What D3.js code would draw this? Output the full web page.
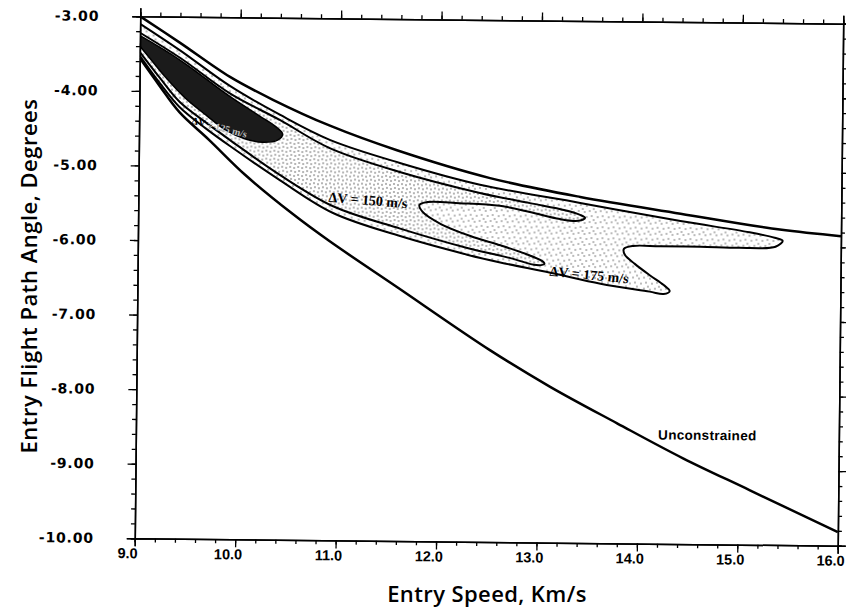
<!DOCTYPE html>
<html>
<head>
<meta charset="utf-8">
<script src="https://cdn.jsdelivr.net/npm/d3@7"></script>
<style>
  body { margin: 0; background: #fff; }
</style>
</head>
<body>
<div id="container"></div>
<script>
// axis ticks
const xTicks = [9, 10, 11, 12, 13, 14, 15, 16];
const xTickLabels = ['9.0', '10.0', '11.0', '12.0', '13.0', '14.0', '15.0', '16.0'];
const yTicks = [-3, -4, -5, -6, -7, -8, -9, -10];
const yTickLabels = ['-3.00', '-4.00', '-5.00', '-6.00', '-7.00', '-8.00', '-9.00', '-10.00'];

// upper limit of the corridor (speed km/s, angle deg)
const upperLimit = [
  [9.0, -3.0], [9.40, -3.35], [9.90, -3.80], [10.33, -4.10], [10.90, -4.44],
  [11.57, -4.76], [12.50, -5.12], [13.40, -5.36], [14.40, -5.57], [15.39, -5.77], [16.0, -5.85]
];

// lower limit, unconstrained
const unconstrained = [
  [9.0, -3.56], [9.20, -3.93], [9.40, -4.28], [9.70, -4.65], [10.06, -5.11],
  [10.54, -5.63], [10.91, -5.99], [11.58, -6.59], [12.52, -7.43], [13.12, -7.91],
  [13.79, -8.39], [14.45, -8.85], [15.12, -9.27], [16.0, -9.82]
];

// dV = 175 m/s contour
const dv175 = [
  [9.0, -3.10], [9.40, -3.45], [9.90, -3.92], [10.40, -4.30], [10.90, -4.63],
  [11.60, -4.93], [12.40, -5.21], [13.40, -5.44], [14.40, -5.67], [15.09, -5.81],
  [15.34, -5.88], [15.42, -5.92], [15.35, -6.00], [14.99, -6.02], [14.60, -6.01],
  [14.20, -6.01], [13.93, -6.01], [13.84, -6.05], [13.85, -6.13], [13.95, -6.25],
  [14.10, -6.40], [14.24, -6.53], [14.30, -6.61], [14.24, -6.65], [14.10, -6.62],
  [13.61, -6.52], [13.11, -6.38], [12.61, -6.25], [12.28, -6.15], [11.61, -5.91],
  [10.94, -5.61], [10.41, -5.18], [9.91, -4.73], [9.66, -4.49], [9.40, -4.21],
  [9.20, -3.89], [9.0, -3.53]
];

// dV = 150 m/s contour
const dv150 = [
  [9.0, -3.22], [9.40, -3.55], [9.90, -4.02], [10.40, -4.37], [10.90, -4.74],
  [11.60, -5.05], [12.40, -5.32], [12.90, -5.45], [13.25, -5.54], [13.40, -5.60],
  [13.45, -5.64], [13.38, -5.68], [13.20, -5.66], [12.90, -5.57], [12.60, -5.49],
  [12.20, -5.46], [11.88, -5.45], [11.80, -5.49], [11.83, -5.58], [12.01, -5.74],
  [12.31, -5.90], [12.61, -6.02], [12.86, -6.13], [13.02, -6.22], [13.05, -6.26],
  [12.97, -6.28], [12.71, -6.19], [12.28, -6.06], [11.61, -5.81], [10.94, -5.52],
  [10.41, -5.11], [9.91, -4.65], [9.66, -4.41], [9.40, -4.14], [9.20, -3.82],
  [9.0, -3.48]
];

// inner (dark) contour
const dv125 = [
  [9.0, -3.26], [9.40, -3.58], [9.90, -4.06], [10.20, -4.32], [10.36, -4.46],
  [10.43, -4.56], [10.38, -4.64], [10.23, -4.67], [10.06, -4.63], [9.86, -4.51],
  [9.66, -4.31], [9.45, -4.08], [9.25, -3.80], [9.10, -3.56], [9.0, -3.40]
];

// contour labels, anchored at data coords
const labelText = ['ΔV = 150 m/s', 'ΔV = 175 m/s', 'Unconstrained'];
const labelAt = [[10.89, -5.46], [13.10, -6.42], [14.20, -8.60]];

let width = 846;
let height = 614;
let frame = { left: 137.5, right: 840.5, top: 20, bottom: 542 };

let svg = d3.create('svg').attr('width', width).attr('height', height);

let xScale = d3.scaleLinear().domain([9, 16]).range([frame.left, frame.right]);
let yScale = d3.scaleLinear().domain([-3, -10]).range([frame.top, frame.bottom]);

// the scanned plot is slightly tilted
let g = svg.append('g').attr('transform', 'rotate(0.6 489 281)');

let defs = svg.append('defs');
defs.append('clipPath').attr('id', 'plot')
  .append('rect')
  .attr('x', frame.left).attr('y', frame.top)
  .attr('width', frame.right - frame.left).attr('height', frame.bottom - frame.top);

// stipple patterns
function stipple(id, size, dots, color) {
  let p = defs.append('pattern').attr('id', id)
    .attr('patternUnits', 'userSpaceOnUse')
    .attr('width', size).attr('height', size);
  p.append('rect').attr('width', size).attr('height', size).attr('fill', '#fff');
  p.selectAll('circle').data(dots).enter().append('circle')
    .attr('cx', d => d[0]).attr('cy', d => d[1]).attr('r', 0.7).attr('fill', color);
}
stipple('light', 11, [[1, 2], [6, 1], [3, 7], [8, 6], [10, 10]], '#444');
stipple('mid', 8, [[1, 1], [5, 2], [2, 5], [6, 6]], '#333');

let line = d3.line()
  .x(d => xScale(d[0]))
  .y(d => yScale(d[1]))
  .curve(d3.curveCatmullRom.alpha(0.5));

let plot = g.append('g').attr('clip-path', 'url(#plot)');

plot.append('path').attr('d', line(dv175) + 'Z')
  .attr('fill', 'url(#light)').attr('stroke', '#000').attr('stroke-width', 2);
plot.append('path').attr('d', line(dv150) + 'Z')
  .attr('fill', 'url(#mid)').attr('stroke', '#000').attr('stroke-width', 2);
plot.append('path').attr('d', line(dv125) + 'Z')
  .attr('fill', '#1b1b1b').attr('stroke', '#000').attr('stroke-width', 1.5);

plot.append('path').attr('d', line(upperLimit))
  .attr('fill', 'none').attr('stroke', '#000').attr('stroke-width', 2.5);
plot.append('path').attr('d', line(unconstrained))
  .attr('fill', 'none').attr('stroke', '#000').attr('stroke-width', 2.5);

// frame with ticks on every side
let minorX = d3.range(0, 36).map(i => 9 + i * 0.2);
let minorY = d3.range(0, 36).map(i => -3 - i * 0.2);

function addAxis(axis, tx, ty, vals, size) {
  let a = g.append('g').attr('transform', `translate(${tx},${ty})`)
    .call(axis.tickValues(vals).tickSize(size).tickFormat(''));
  a.select('.domain').attr('stroke-width', 1.5);
  a.selectAll('.tick line').attr('stroke-width', 1.3);
}
[[4, minorX, minorY], [8, xTicks, yTicks]].forEach(([s, vx, vy]) => {
  addAxis(d3.axisBottom(xScale).tickSizeOuter(0), 0, frame.bottom, vx, s);
  addAxis(d3.axisTop(xScale).tickSizeOuter(0), 0, frame.top, vx, s);
  addAxis(d3.axisLeft(yScale).tickSizeOuter(0), frame.left, 0, vy, s);
  addAxis(d3.axisRight(yScale).tickSizeOuter(0), frame.right, 0, vy, s);
});

// tick labels
g.selectAll('.xl').data(xTicks).enter().append('text')
  .attr('x', d => xScale(d) - 7)
  .attr('y', frame.bottom + 20)
  .attr('text-anchor', 'middle')
  .attr('font-family', 'Liberation Sans')
  .attr('font-weight', 'bold')
  .attr('font-size', '14.5px')
  .text((d, i) => xTickLabels[i]);

g.selectAll('.yl').data(yTicks).enter().append('text')
  .attr('x', frame.left - 41)
  .attr('y', d => yScale(d) + 5)
  .attr('text-anchor', 'end')
  .attr('font-family', 'DejaVu Sans')
  .attr('font-weight', 'bold')
  .attr('font-size', '14px')
  .attr('letter-spacing', '0.8px')
  .text((d, i) => yTickLabels[i]);

// contour labels
let rot = [4, 5, 0];
labelText.forEach((t, i) => {
  let px = xScale(labelAt[i][0]), py = yScale(labelAt[i][1]);
  g.append('text')
    .attr('transform', `translate(${px},${py}) rotate(${rot[i]})`)
    .attr('font-family', i < 2 ? 'Liberation Serif' : 'Liberation Sans')
    .attr('font-weight', 'bold')
    .attr('font-size', i < 2 ? '14px' : '13.5px')
    .attr('letter-spacing', i < 2 ? '0px' : '0.3px')
    .text(t);
});

// partly hidden label of the dark contour
let inner = g.append('text')
  .attr('transform', `translate(${xScale(9.52)},${yScale(-4.43)}) rotate(14)`)
  .attr('font-family', 'Liberation Serif')
  .attr('font-weight', 'bold')
  .attr('font-size', '10px');
inner.append('tspan').attr('fill', '#000').text('ΔV ');
inner.append('tspan').attr('fill', '#bbb').text('= 125 m/s');

// axis titles
svg.append('text')
  .attr('x', 487).attr('y', 602)
  .attr('text-anchor', 'middle')
  .attr('font-family', 'Open Sans')
  .attr('font-weight', 600)
  .attr('font-size', '22px')
  .attr('letter-spacing', '0.4px')
  .text('Entry Speed, Km/s');

svg.append('text')
  .attr('transform', 'translate(37,276) rotate(-90)')
  .attr('text-anchor', 'middle')
  .attr('font-family', 'Open Sans')
  .attr('font-weight', 600)
  .attr('font-size', '22px')
  .attr('letter-spacing', '0.5px')
  .text('Entry Flight Path Angle, Degrees');

d3.select('#container').append(() => svg.node());
</script>
</body>
</html>
